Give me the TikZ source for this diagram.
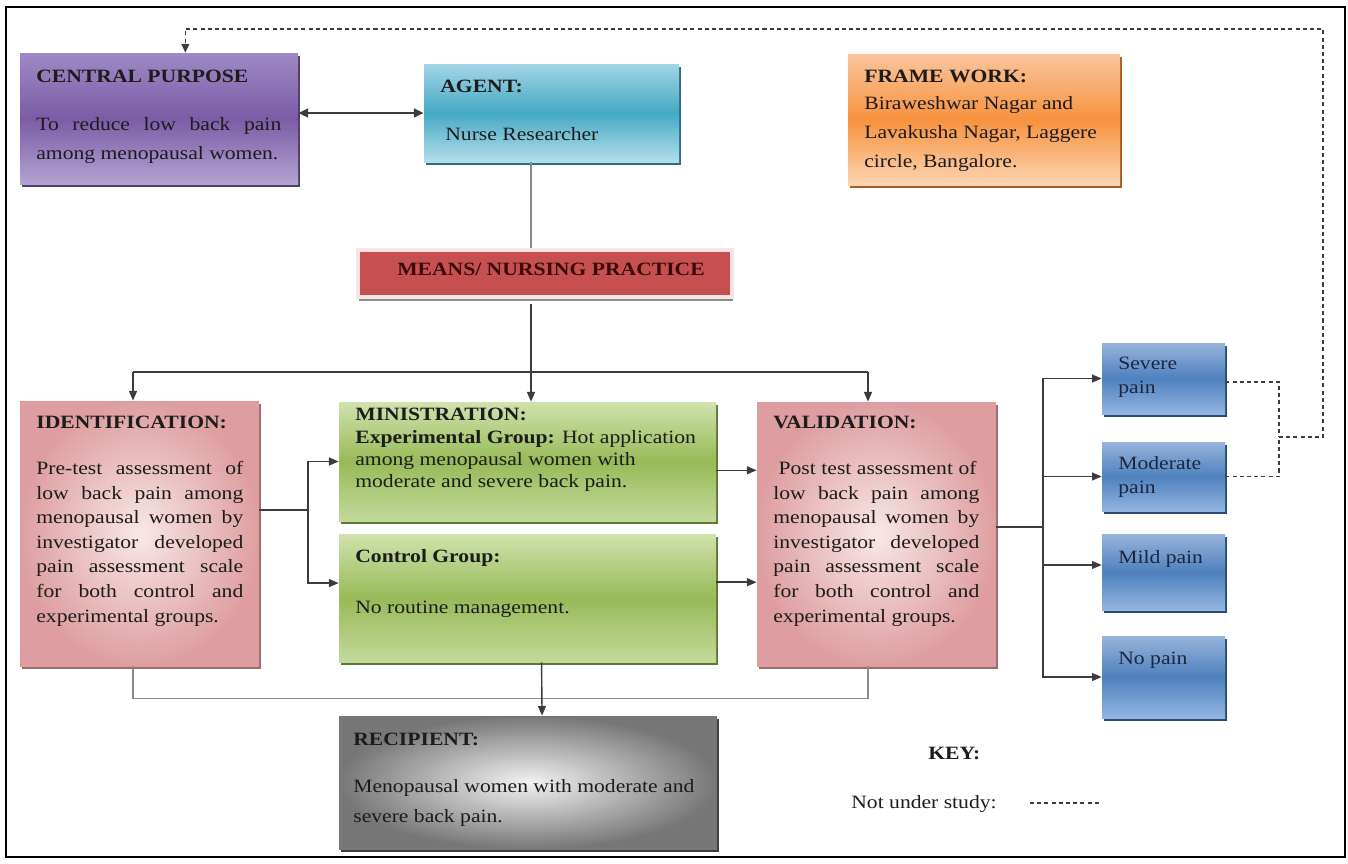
\documentclass[tikz,border=0pt]{standalone}
\usepackage{fontspec}
\setmainfont{Liberation Serif}[FakeStretch=1.15]
\usepackage{tikz}
\usetikzlibrary{arrows.meta,positioning,calc,fit,shadows}
\definecolor{lbink}       {HTML}{1C1C1C}
\definecolor{lbline}      {HTML}{3C3C3C}
\definecolor{lbgrey}      {HTML}{8C8C8C}
\definecolor{lbpurpletop} {HTML}{9E8AC6}
\definecolor{lbpurplemid} {HTML}{7A5CA5}
\definecolor{lbpurplebot} {HTML}{B3A3D3}
\definecolor{lbpurpleedge}{HTML}{4E3E6A}
\definecolor{lbtealtop}   {HTML}{A2D5E5}
\definecolor{lbtealmid}   {HTML}{45A9C4}
\definecolor{lbtealbot}   {HTML}{B4DEEA}
\definecolor{lbtealedge}  {HTML}{2B6F82}
\definecolor{lborangetop} {HTML}{FBC59C}
\definecolor{lborangemid} {HTML}{F7923F}
\definecolor{lborangebot} {HTML}{FCD4B2}
\definecolor{lborangeedge}{HTML}{A85A20}
\definecolor{lbred}       {HTML}{C6504F}
\definecolor{lbredrim}    {HTML}{F8E4E4}
\definecolor{lbredtext}   {HTML}{3A0A0A}
\definecolor{lbpinkin}    {HTML}{F8E7E7}
\definecolor{lbpinkout}   {HTML}{DE9EA1}
\definecolor{lbpinkedge}  {HTML}{9C6C6E}
\definecolor{lbgreentop}  {HTML}{D0E2AD}
\definecolor{lbgreenmid}  {HTML}{98BA58}
\definecolor{lbgreenbot}  {HTML}{C3D99B}
\definecolor{lbgreenedge} {HTML}{5F7A30}
\definecolor{lbbluetop}   {HTML}{97B4DB}
\definecolor{lbbluemid}   {HTML}{4F81BD}
\definecolor{lbbluebot}   {HTML}{93B5E0}
\definecolor{lbblueedge}  {HTML}{2B4A73}
\definecolor{lbbluetext}  {HTML}{1B2740}
\definecolor{lbgreyin}    {HTML}{F2F2F2}
\definecolor{lbgreyout}   {HTML}{777777}
\definecolor{lbgreyedge}  {HTML}{3E3E3E}
\tikzset{
  lbbox/.style={rectangle, inner sep=0pt},
  lbpurplebox/.style={lbbox, top color=lbpurpletop, bottom color=lbpurplebot, middle color=lbpurplemid,
                      drop shadow={shadow xshift=1pt, shadow yshift=-1.8pt, fill=lbpurpleedge, opacity=1}},
  lbtealbox/.style={lbbox, top color=lbtealtop, bottom color=lbtealbot, middle color=lbtealmid,
                    drop shadow={shadow xshift=1pt, shadow yshift=-1.8pt, fill=lbtealedge, opacity=1}},
  lborangebox/.style={lbbox, top color=lborangetop, bottom color=lborangebot, middle color=lborangemid,
                      drop shadow={shadow xshift=1pt, shadow yshift=-1.8pt, fill=lborangeedge, opacity=1}},
  lbmeansbox/.style={lbbox, fill=lbred, draw=lbredrim, line width=2.5pt,
                     drop shadow={shadow xshift=0.5pt, shadow yshift=-2.2pt, fill=lbgrey, opacity=1}},
  lbpinkbox/.style={lbbox, shading=radial, inner color=lbpinkin, outer color=lbpinkout,
                    drop shadow={shadow xshift=1pt, shadow yshift=-1.5pt, fill=lbpinkedge, opacity=1}},
  lbgreenbox/.style={lbbox, top color=lbgreentop, bottom color=lbgreenbot, middle color=lbgreenmid,
                     drop shadow={shadow xshift=1pt, shadow yshift=-1.8pt, fill=lbgreenedge, opacity=1}},
  lbbluebox/.style={lbbox, top color=lbbluetop, bottom color=lbbluebot, middle color=lbbluemid,
                    drop shadow={shadow xshift=1pt, shadow yshift=-1.8pt, fill=lbblueedge, opacity=1}},
  lbgreybox/.style={lbbox, shading=radial, inner color=lbgreyin, outer color=lbgreyout,
                    drop shadow={shadow xshift=1pt, shadow yshift=-1.8pt, fill=lbgreyedge, opacity=1}},
  lbhead/.style={inner sep=0pt, anchor=base west, text=lbink, font=\fontsize{10.7}{14}\selectfont\bfseries},
  % multi-line texts are placed by the baseline of their last line
  lbtext/.style={inner sep=0pt, anchor=base west, align=left, text=lbink, font=\fontsize{10.7}{#1}\selectfont},
  lbtext/.default=14,
  lbedge/.style={draw=lbline, line width=0.8pt},
  lbarrow/.style={lbedge, -{Triangle[length=5.5pt,width=4.5pt]}},
  lbboth/.style={lbedge, line width=1.1pt, {Triangle[length=5.5pt,width=5pt]}-{Triangle[length=5.5pt,width=5pt]}},
  lbfaint/.style={draw=lbgrey, line width=0.9pt},
  lbdash/.style={draw=lbline, line width=0.8pt, dash pattern=on 2.3pt off 1.8pt},
}

\begin{document}
\begin{tikzpicture}[x=0.02cm, y=-0.02cm]
  \useasboundingbox (0,0) rectangle (1348,863);
  \draw[line width=1pt] (6,7) rectangle (1345,857);

  % boxes
  \node[lbpurplebox, fit={(20,53) (298,184)}]    (purpose)  {};
  \node[lbtealbox,   fit={(424,64) (679,162)}]   (agent)    {};
  \node[lborangebox, fit={(848,54) (1120,185)}]  (frame)    {};
  \node[lbmeansbox,  fit={(358,250) (732,297)}]  (means)    {};
  \node[lbpinkbox,   fit={(20,401) (259,666)}]   (ident)    {};
  \node[lbgreenbox,  fit={(339,402) (716,521)}]  (minis)    {};
  \node[lbgreenbox,  fit={(339,534) (716,662)}]  (control)  {};
  \node[lbpinkbox,   fit={(757,402) (996,666)}]  (valid)    {};
  \node[lbbluebox,   fit={(1102,343) (1225,414)}] (severe)  {};
  \node[lbbluebox,   fit={(1102,442) (1225,511)}] (moderate){};
  \node[lbbluebox,   fit={(1102,534) (1225,610)}] (mild)    {};
  \node[lbbluebox,   fit={(1102,636) (1225,718)}] (nopain)  {};
  \node[lbgreybox,   fit={(339,716) (717,849)}]  (recip)    {};

  % texts
  \node[lbhead] (purposehead) at (36,82) {CENTRAL PURPOSE};
  \node[lbtext=16.4] (purposetext) at (36,159)
    {\makebox[4.9cm][s]{To reduce low back pain}\\among menopausal women.};
  \node[lbhead] (agenthead) at (440,92) {AGENT:};
  \node[lbtext] (agenttext) at (445,140) {Nurse Researcher};
  \node[lbhead] (framehead) at (864,82) {FRAME WORK:};
  \node[lbtext=16.4] (frametext) at (864,167)
    {Biraweshwar Nagar and\\Lavakusha Nagar, Laggere\\circle, Bangalore.};
  \node[lbhead, anchor=base, text=lbredtext] (meanshead) at (551,275) {MEANS/ NURSING PRACTICE};
  \node[lbhead] (identhead) at (36,428) {IDENTIFICATION:};
  \node[lbtext] (identtext) at (36,622)
    {\makebox[4.14cm][s]{Pre-test assessment of}\\\makebox[4.14cm][s]{low back pain among}\\
     \makebox[4.14cm][s]{menopausal women by}\\\makebox[4.14cm][s]{investigator developed}\\
     \makebox[4.14cm][s]{pain assessment scale}\\\makebox[4.14cm][s]{for both control and}\\
     experimental groups.};
  \node[lbhead] (minishead) at (355,420) {MINISTRATION:};
  \node[lbtext=12.5] (ministext) at (355,487)
    {\textbf{Experimental Group:} Hot application\\among menopausal women with\\moderate and severe back pain.};
  \node[lbhead] (controlhead) at (355,562) {Control Group:};
  \node[lbtext] (controltext) at (355,613) {No routine management.};
  \node[lbhead] (validhead) at (773,428) {VALIDATION:};
  \node[lbtext] (validtext) at (773,622)
    {\hspace{3pt}\makebox[3.96cm][s]{Post test assessment of}\\\makebox[4.12cm][s]{low back pain among}\\
     \makebox[4.12cm][s]{menopausal women by}\\\makebox[4.12cm][s]{investigator developed}\\
     \makebox[4.12cm][s]{pain assessment scale}\\\makebox[4.12cm][s]{for both control and}\\
     experimental groups.};
  \node[lbtext=13.6, text=lbbluetext] (severetext)   at (1118,393) {Severe\\pain};
  \node[lbtext=13.6, text=lbbluetext] (moderatetext) at (1118,493) {Moderate\\pain};
  \node[lbtext, text=lbbluetext] (mildtext)     at (1118,563) {Mild pain};
  \node[lbtext, text=lbbluetext] (nopaintext)   at (1118,664) {No pain};
  \node[lbhead] (reciphead) at (353,745) {RECIPIENT:};
  \node[lbtext=17] (reciptext) at (353,822) {Menopausal women with moderate and\\severe back pain.};
  \node[lbhead] (keyhead) at (928,759) {KEY:};
  \node[lbtext] (keytext) at (851,808) {Not under study:};

  % connectors
  \coordinate (bus)    at (531,372);
  \coordinate (busl)   at (133,372);
  \coordinate (busr)   at (868,372);
  \coordinate (splitl) at (308,510);
  \coordinate (splitr) at (1043,527);
  \coordinate (dashj)  at (1279,437);
  \coordinate (dashc)  at (1323,29);

  \draw[lbboth] (purpose.east |- agent.west) -- (agent.west);
  \draw[lbfaint] (agent.south -| bus) -- (means.north -| bus);
  \draw[lbedge] ([yshift=-3pt]means.south -| bus) -- (bus);
  \draw[lbedge] (busl) -- (busr);
  \draw[lbarrow] (busl) -- (busl |- ident.north);
  \draw[lbarrow] (bus) -- (bus |- minis.north);
  \draw[lbarrow] (busr) -- (busr |- valid.north);

  \draw[lbedge] (ident.east |- splitl) -- (splitl);
  \draw[lbarrow] (splitl) |- (minis.west);
  \draw[lbarrow] (splitl) |- ([yshift=8.5pt]control.west);
  \draw[lbarrow] ([yshift=-5pt]minis.east) -- ([yshift=-5pt]minis.east -| valid.west);
  \draw[lbarrow] ([yshift=9pt]control.east) -- ([yshift=9pt]control.east -| valid.west);

  \draw[lbedge] (valid.east |- splitr) -- (splitr);
  \draw[lbarrow] (splitr) |- (severe.west);
  \draw[lbarrow] (splitr) |- (moderate.west);
  \draw[lbarrow] (splitr) |- ([yshift=4pt]mild.west);
  \draw[lbarrow] (splitr) |- (nopain.west);

  \draw[lbfaint] (busl |- ident.south) -- ++(0,32) -| (busr |- valid.south);
  \draw[lbarrow] ([xshift=8pt]control.south) -- ([xshift=8pt]recip.north);

  \draw[lbdash] ([yshift=-2pt]severe.east) -| (dashj);
  \draw[lbdash] (moderate.east) -| (dashj);
  \draw[lbdash, -{Triangle[length=5pt,width=4.5pt]}] (dashj) -| (dashc) -| ([xshift=15pt]purpose.north);
  \draw[lbdash] (1030,803) -- (1102,803);
\end{tikzpicture}
\end{document}
